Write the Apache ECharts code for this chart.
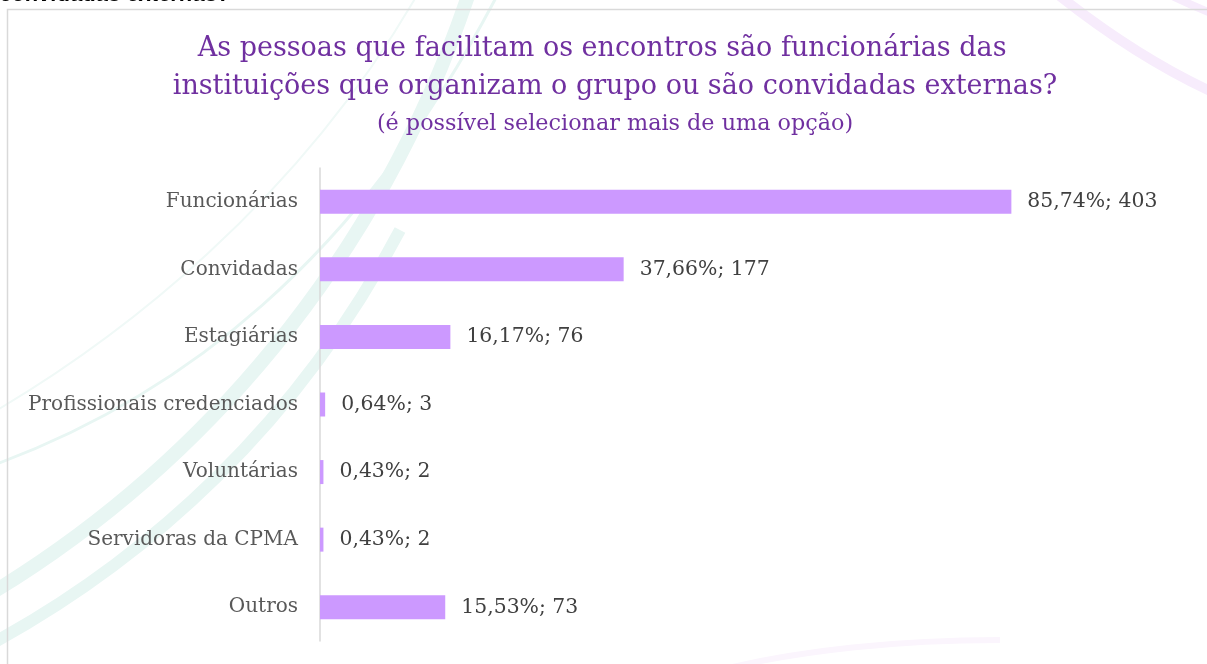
<!DOCTYPE html>
<html>
<head>
<meta charset="utf-8">
<script src="https://cdn.jsdelivr.net/npm/echarts@6/dist/echarts.min.js"></script>
<style>
  html, body { margin: 0; padding: 0; background: #fff; }
  #chart { width: 1207px; height: 664px; }
</style>
</head>
<body>
<div id="chart"></div>
<script>
// categorias e valores
var categorias = ["Funcionárias", "Convidadas", "Estagiárias", "Profissionais credenciados", "Voluntárias", "Servidoras da CPMA", "Outros"];
var quantidade = [403, 177, 76, 3, 2, 2, 73];
var percentual = ["85,74%", "37,66%", "16,17%", "0,64%", "0,43%", "0,43%", "15,53%"];

var mychart = echarts.init(document.getElementById("chart"));
var serif = "DejaVu Serif";

var option = {
    backgroundColor: "#fff",
    title: {
        // espaços no fim da 1a linha: no original ela fica um pouco à esquerda
        text: "As pessoas que facilitam os encontros são funcionárias das   \ninstituições que organizam o grupo ou são convidadas externas?",
        subtext: "(é possível selecionar mais de uma opção)",
        left: 610,
        top: 25,
        textAlign: "center",
        itemGap: 5,
        textStyle: {
            color: "#7030A0",
            fontFamily: serif,
            fontWeight: "normal",
            fontSize: 27,
            lineHeight: 38
        },
        subtextStyle: {
            color: "#7030A0",
            fontFamily: serif,
            fontSize: 22.3,
            lineHeight: 26
        }
    },
    grid: {
        left: 320,
        top: 168,
        width: 772,
        height: 473
    },
    xAxis: {
        type: "value",
        min: 0,
        max: 450,
        show: false
    },
    yAxis: {
        type: "category",
        inverse: true,
        data: categorias,
        axisLine: {
            lineStyle: { color: "#d9d9d9", width: 1.5 }
        },
        axisTick: { show: false },
        axisLabel: {
            color: "#595959",
            fontFamily: serif,
            fontSize: 20,
            margin: 22
        }
    },
    series: [{
        type: "bar",
        data: quantidade,
        barWidth: 24,
        itemStyle: { color: "#CC99FF" },
        label: {
            show: true,
            position: "right",
            distance: 16,
            color: "#404040",
            fontFamily: serif,
            fontSize: 20.4,
            formatter: function (p) {
                return percentual[p.dataIndex] + "; " + p.value;
            }
        },
        silent: true
    }],
    graphic: [
        // faixas decorativas do fundo
        { type: "bezierCurve", z: -10, shape: { x1: -20, y1: 600, cpx1: 200, cpy1: 470, cpx2: 380, cpy2: 260, x2: 470, y2: -10 }, style: { stroke: "#e8f6f3", lineWidth: 14, fill: null } },
        { type: "bezierCurve", z: -10, shape: { x1: -20, y1: 470, cpx1: 180, cpy1: 400, cpx2: 360, cpy2: 260, x2: 500, y2: -10 }, style: { stroke: "#e8f6f3", lineWidth: 3, fill: null } },
        { type: "bezierCurve", z: -10, shape: { x1: -20, y1: 650, cpx1: 150, cpy1: 560, cpx2: 300, cpy2: 420, x2: 400, y2: 230 }, style: { stroke: "#e8f6f3", lineWidth: 12, fill: null } },
        { type: "bezierCurve", z: -10, shape: { x1: -20, y1: 420, cpx1: 120, cpy1: 340, cpx2: 300, cpy2: 200, x2: 420, y2: -10 }, style: { stroke: "#f0f9f7", lineWidth: 2, fill: null } },
        { type: "bezierCurve", z: -10, shape: { x1: 1040, y1: -20, cpx1: 1100, cpy1: 30, cpx2: 1160, cpy2: 70, x2: 1230, y2: 100 }, style: { stroke: "#f7ecfc", lineWidth: 10, fill: null } },
        { type: "bezierCurve", z: -10, shape: { x1: 1160, y1: -10, cpx1: 1180, cpy1: 0, cpx2: 1200, cpy2: 10, x2: 1230, y2: 20 }, style: { stroke: "#f7ecfc", lineWidth: 8, fill: null } },
        { type: "bezierCurve", z: -10, shape: { x1: 720, y1: 670, cpx1: 800, cpy1: 650, cpx2: 900, cpy2: 640, x2: 1000, y2: 640 }, style: { stroke: "#fbf5fd", lineWidth: 6, fill: null } },
        // moldura do gráfico
        { type: "rect", z: -5, shape: { x: 7.5, y: 9.5, width: 1220, height: 680 }, style: { stroke: "#d9d9d9", lineWidth: 1.5, fill: null } },
        // texto da página, cortado no topo
        { type: "text", x: 0, y: 6, style: { text: "convidadas externas?", fill: "#000", font: "italic bold 22px 'Liberation Sans'", verticalAlign: "bottom" } }
    ]
};

mychart.setOption(option);
</script>
</body>
</html>
